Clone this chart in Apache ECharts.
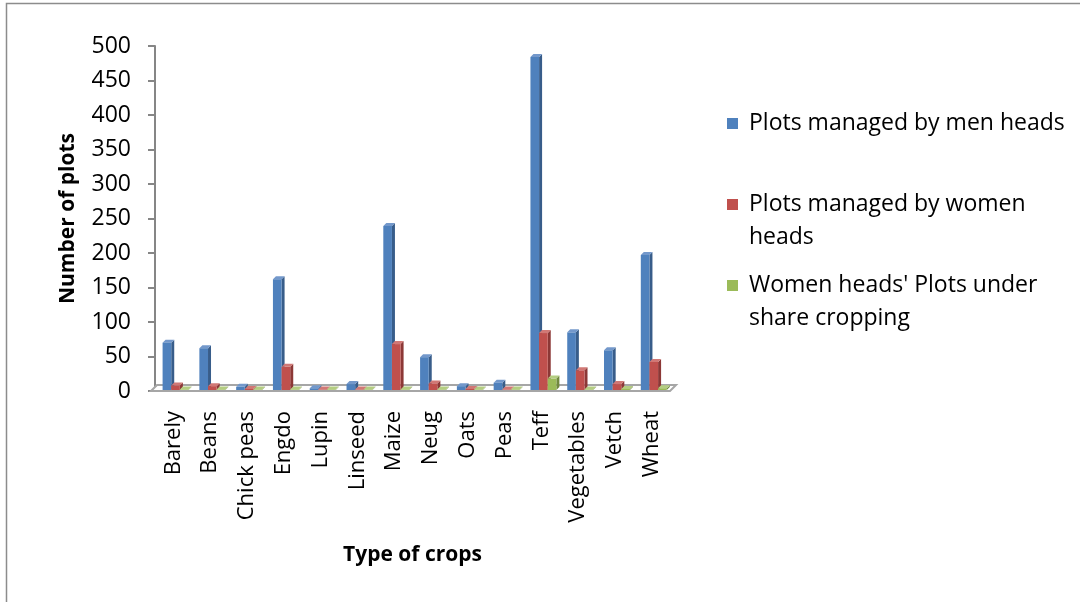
<!DOCTYPE html>
<html>
<head>
<meta charset="utf-8">
<title>Number of plots by type of crop</title>
<script src="https://cdn.jsdelivr.net/npm/echarts@6/dist/echarts.min.js"></script>
<style>
  html, body { margin: 0; padding: 0; background: #fff; }
  #chart { width: 1080px; height: 602px; }
</style>
</head>
<body>
<div id="chart"></div>
<script>
// Crop categories along the x axis
var crops = ['Barely', 'Beans', 'Chick peas', 'Engdo', 'Lupin', 'Linseed', 'Maize',
             'Neug', 'Oats', 'Peas', 'Teff', 'Vegetables', 'Vetch', 'Wheat'];

// Number of plots per crop
var menHeads        = [70, 62, 6, 162, 4, 10, 239, 49, 7, 12, 484, 85, 59, 197];
var womenHeads      = [8, 7, 3, 35, 1, 2, 68, 11, 3, 2, 84, 30, 10, 42];
var womenShareCrop  = [1, 1, 0, 2, 0, 0, 2, 1, 0, 0, 18, 1, 3, 4];

var seriesNames = [
  'Plots managed by men heads',
  'Plots managed by women heads',
  "Women heads' Plots under share cropping"
];
var legendLabels = [
  'Plots managed by men heads',
  '\nPlots managed by women\nheads',
  "\nWomen heads' Plots under\nshare cropping"
];

var FONT = '"Open Sans", "DejaVu Sans", sans-serif';
var faces = [
  { front: '#4F81BD', side: '#385D8A', top: '#7398CB' },
  { front: '#C0504D', side: '#8C3836', top: '#D17875' },
  { front: '#9BBB59', side: '#71893F', top: '#B4CD81' }
];

// Draws a bar with a shaded side and top face for a pseudo-3D look
function bar3d(idx) {
  return function (params, api) {
    var cat = api.value(0);
    var val = api.value(1);
    var topPt = api.coord([cat, val]);
    var basePt = api.coord([cat, 0]);
    var band = api.size([1, 0])[0];
    var w = band * 0.235;
    var d = 3;
    var x0 = topPt[0] + (idx - 1.25) * w;
    var yb = basePt[1] - 1;
    var yt = Math.min(topPt[1], yb - 0.5);
    var c = faces[idx];
    return {
      type: 'group',
      children: [
        { type: 'polygon', shape: { points: [[x0 + w, yt], [x0 + w + d, yt - d], [x0 + w + d, yb - d], [x0 + w, yb]] },
          style: { fill: c.side } },
        { type: 'polygon', shape: { points: [[x0, yt], [x0 + d, yt - d], [x0 + w + d, yt - d], [x0 + w, yt]] },
          style: { fill: c.top } },
        { type: 'rect', shape: { x: x0, y: yt, width: w, height: yb - yt },
          style: { fill: c.front } }
      ]
    };
  };
}

// Grey floor under the bars
function floor(params, api) {
  var band = api.size([1, 0])[0];
  var first = api.coord([0, 0]);
  var last = api.coord([crops.length - 1, 0]);
  var left = first[0] - band / 2 - 4;
  var right = last[0] + band / 2;
  var y = first[1];
  var d = 6;
  return {
    type: 'polygon',
    shape: { points: [[left, y], [left + d, y - d], [right + d, y - d], [right, y]] },
    style: { fill: '#ffffff', stroke: '#a6a6a6', lineWidth: 2 }
  };
}

function toData(arr) {
  return arr.map(function (v, i) { return [i, v]; });
}

var allSeries = [menHeads, womenHeads, womenShareCrop];
var legendTops = [107, 155, 236];

var option = {
  backgroundColor: '#ffffff',
  animation: false,
  textStyle: { fontFamily: FONT, color: '#000' },
  grid: { left: 155, right: 410, top: 46, bottom: 211, containLabel: false },
  xAxis: {
    type: 'category',
    data: crops,
    name: 'Type of crops',
    nameLocation: 'middle',
    nameGap: 154,
    nameTextStyle: { fontFamily: FONT, fontSize: 21, fontWeight: 'bold', color: '#000' },
    axisLine: { show: false },
    axisTick: { show: false },
    axisLabel: {
      rotate: 90, interval: 0, margin: 20,
      fontFamily: FONT, fontSize: 22, color: '#000'
    }
  },
  yAxis: {
    type: 'value',
    min: 0, max: 500, interval: 50,
    name: 'Number of plots',
    nameLocation: 'middle',
    nameRotate: 90,
    nameGap: 76,
    nameTextStyle: { fontFamily: FONT, fontSize: 21, fontWeight: 'bold', color: '#000' },
    axisLine: { show: true, lineStyle: { color: '#868686', width: 2 } },
    axisTick: { show: true, inside: false, length: 7, lineStyle: { color: '#868686', width: 2 } },
    splitLine: { show: false },
    axisLabel: { margin: 24, fontFamily: FONT, fontSize: 23, color: '#000' }
  },
  legend: legendTops.map(function (top, i) {
    return {
      data: [{ name: seriesNames[i], itemStyle: { color: faces[i].front } }],
      orient: 'vertical',
      left: 727,
      top: top,
      padding: 0,
      icon: 'rect',
      itemWidth: 11,
      itemHeight: 11,
      selectedMode: false,
      formatter: function () { return legendLabels[i]; },
      textStyle: { fontFamily: FONT, fontSize: 23, lineHeight: 33, color: '#000', padding: [0, 0, 0, 6] }
    };
  }),
  graphic: [
    {
      type: 'rect',
      shape: { x: 6.5, y: 3.5, width: 1200, height: 800 },
      style: { fill: null, stroke: '#8c8c8c', lineWidth: 1.5 },
      silent: true
    }
  ],
  series: [
    { type: 'custom', name: 'floor', renderItem: floor, data: [[0, 0]], z: 1, silent: true }
  ].concat(allSeries.map(function (arr, i) {
    return {
      type: 'custom',
      name: seriesNames[i],
      renderItem: bar3d(i),
      data: toData(arr),
      itemStyle: { color: faces[i].front },
      encode: { x: 0, y: 1 },
      z: 2 + i
    };
  }))
};

var chart = echarts.init(document.getElementById('chart'), null, { renderer: 'canvas' });
chart.setOption(option);
</script>
</body>
</html>
